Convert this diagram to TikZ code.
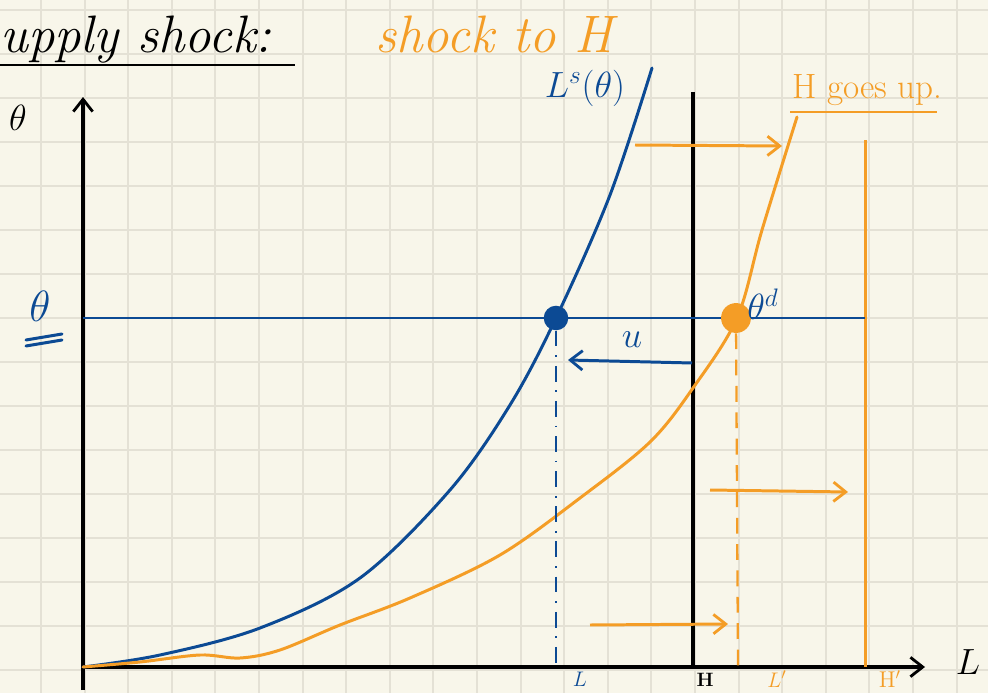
\documentclass[tikz,border=0pt]{standalone}
\usepackage{tikz}
\usetikzlibrary{arrows.meta,positioning}
\definecolor{paper}{RGB}{248,246,234}
\definecolor{gridline}{RGB}{228,225,213}
\definecolor{shockblue}{RGB}{12,74,148}
\definecolor{shockorange}{RGB}{244,157,38}

\begin{document}
\begin{tikzpicture}[x=0.02cm,y=-0.02cm,
  axis/.style={line width=1.8pt,black},
  bline/.style={line width=1.7pt,shockblue},
  oline/.style={line width=1.7pt,shockorange},
  tip/.style={-{Straight Barb[length=7pt,width=11pt,line width=1.6pt]}},
  hand/.style={font=\fontsize{30}{34}\selectfont\itshape,inner sep=0pt},
  lbl/.style={font=\fontsize{20}{22}\selectfont,inner sep=0pt},
  blbl/.style={font=\fontsize{13}{15}\selectfont,inner sep=0pt},
  ddot/.style={circle,inner sep=0pt},
]
  \fill[paper] (0,0) rectangle (988,693);
  \useasboundingbox (0,0) rectangle (988,693);
  \foreach \i in {-1,...,22}
    \draw[gridline,line width=1.1pt] (41+43.6*\i,0) -- (41+43.6*\i,693);
  \foreach \j in {-9,...,6}
    \draw[gridline,line width=1.1pt] (0,406+44*\j) -- (988,406+44*\j);

  \node[hand,anchor=base west] (title) at (0,52) {upply shock:};
  \draw[line width=1.2pt] (0,65) -- (295,65);
  \node[hand,anchor=base west,shockorange] (shockH) at (375,52) {shock to H};

  \coordinate (O) at (83,667);
  \coordinate (ytop) at (83,97);
  \coordinate (ybot) at (83,690);
  \coordinate (xend) at (925,667);
  \draw[axis,tip] (ybot) -- (ytop);
  \draw[axis,tip] (O) -- (xend);
  \node[lbl] (thetaax) at (18,118) {$\theta$};
  \node[lbl] (Lax) at (968,662) {$L$};

  \coordinate (Htop) at (693,92);
  \coordinate (Hbot) at (693,668);
  \draw[axis] (Htop) -- (Hbot);
  \node[blbl,font=\fontsize{11}{13}\selectfont\bfseries] (Hlbl) at (705,680) {H};

  \coordinate (Hptop) at (865,140);
  \coordinate (Hpbot) at (865,667);
  \draw[oline] (Hptop) -- (Hpbot);
  \node[blbl,shockorange] (Hplbl) at (890,679) {H$'$};

  \coordinate (thl) at (83,318);
  \coordinate (thr) at (865,318);
  \draw[bline] (thl) -- (thr);
  \node[lbl,shockblue,font=\fontsize{26}{28}\selectfont] (thbar) at (40,306) {$\theta$};
  \draw[bline,line cap=round] (26,340) -- (62,334);
  \draw[bline,line cap=round] (26,346) -- (62,340);

  \draw[bline,line cap=round] plot[smooth,tension=0.55] coordinates {
    (83,667) (160,655) (260,628) (360,578) (450,490) (510,405) (556,318)
    (610,195) (652,68)};
  \node[lbl,shockblue] (Ls) at (585,88) {$L^s(\theta)$};

  \draw[oline,line cap=round] plot[smooth,tension=0.55] coordinates {
    (83,667) (140,662) (200,655) (240,658) (280,650) (340,625) (410,598)
    (500,555) (580,498) (650,442) (693,388) (737,318) (762,230) (797,117)};
  \node[lbl,shockorange,anchor=base west] (goesup) at (792,98) {H goes up.};
  \draw[shockorange,line width=1.1pt] (790,112) -- (937,112);

  \node[ddot,fill=shockblue,minimum size=14pt] (eq) at (556,318) {};
  \node[ddot,fill=shockorange,minimum size=17pt] (eqd) at (736,318) {};
  \node[lbl,shockblue] (thd) at (763,304) {$\theta^d$};

  \coordinate (Lbot) at (556,667);
  \coordinate (Lpbot) at (738,667);
  \draw[shockblue,line width=1.3pt,dash pattern=on 9pt off 5pt on 1pt off 5pt] (eq) -- (Lbot);
  \draw[shockorange,line width=1.3pt,dash pattern=on 9pt off 6pt] (eqd) -- (Lpbot);
  \node[blbl,shockblue] (Llbl) at (580,679) {$L$};
  \node[blbl,shockorange] (Lplbl) at (777,679) {$L'$};

  \coordinate (ul) at (568,360);
  \coordinate (ur) at (692,363);
  \draw[bline,tip] (ur) -- (ul);
  \node[lbl,shockblue] (u) at (632,340) {$u$};

  \coordinate (a1s) at (635,145);
  \coordinate (a1e) at (782,146);
  \coordinate (a2s) at (710,490);
  \coordinate (a2e) at (848,492);
  \coordinate (a3s) at (590,625);
  \coordinate (a3e) at (728,624);
  \draw[oline,tip] (a1s) -- (a1e);
  \draw[oline,tip] (a2s) -- (a2e);
  \draw[oline,tip] (a3s) -- (a3e);
\end{tikzpicture}
\end{document}
